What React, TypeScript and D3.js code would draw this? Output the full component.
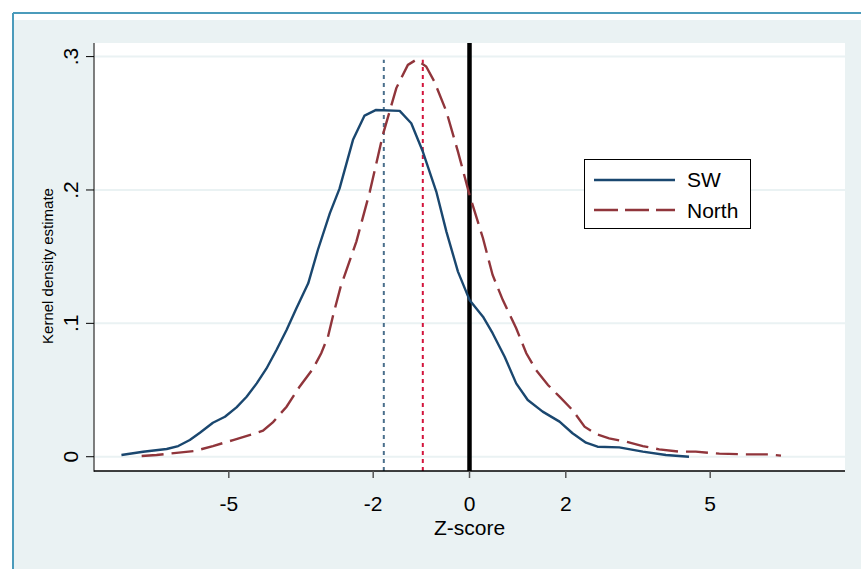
import React from "react";
import * as d3 from "d3";

const swZ = [-7.23, -6.78, -6.29, -6.05, -5.81, -5.6, -5.33, -5.08, -4.84, -4.63, -4.42, -4.22, -4.01, -3.8, -3.6, -3.35, -3.15, -2.9, -2.7, -2.42, -2.18, -1.94, -1.45, -1.21, -0.97, -0.69, -0.48, -0.24, 0, 0.28, 0.48, 0.73, 0.97, 1.21, 1.52, 1.87, 2.14, 2.42, 2.66, 3.11, 3.6, 4.08, 4.56];
const swDensity = [0.0013, 0.0037, 0.0058, 0.008, 0.0125, 0.018, 0.0255, 0.03, 0.037, 0.045, 0.055, 0.066, 0.08, 0.095, 0.111, 0.13, 0.155, 0.1826, 0.201, 0.2376, 0.2558, 0.26, 0.2593, 0.25, 0.2288, 0.1988, 0.1688, 0.1388, 0.1176, 0.105, 0.0926, 0.075, 0.055, 0.0425, 0.0338, 0.0263, 0.0176, 0.0105, 0.0075, 0.007, 0.0038, 0.0013, 0];

const northZ = [-6.81, -6.5, -6.19, -5.71, -5.33, -4.91, -4.5, -4.29, -4.08, -3.8, -3.53, -3.25, -3.08, -2.94, -2.84, -2.68, -2.35, -2.07, -1.8, -1.52, -1.28, -1.11, -0.9, -0.73, -0.48, -0.24, 0, 0.28, 0.48, 0.69, 0.97, 1.18, 1.38, 1.63, 1.87, 2.14, 2.39, 2.63, 2.9, 3.25, 3.6, 3.94, 4.36, 4.7, 5.19, 5.74, 6.22, 6.47];
const northDensity = [0.0005, 0.0013, 0.0025, 0.0043, 0.008, 0.0125, 0.017, 0.0195, 0.026, 0.0375, 0.0525, 0.066, 0.0776, 0.09, 0.105, 0.127, 0.1613, 0.1988, 0.2413, 0.2764, 0.2938, 0.2976, 0.2926, 0.2813, 0.2588, 0.2288, 0.1963, 0.1638, 0.1363, 0.1176, 0.0963, 0.0776, 0.065, 0.0538, 0.045, 0.035, 0.0225, 0.017, 0.0138, 0.0113, 0.008, 0.0055, 0.0038, 0.0038, 0.0023, 0.0018, 0.0018, 0.0008];

const xTicks = [-5, -2, 0, 2, 5];
const xTickLabels = ["-5", "-2", "0", "2", "5"];
const yTicks = [0, 0.1, 0.2, 0.3];
const yTickLabels = ["0", ".1", ".2", ".3"];
const seriesNames = ["SW", "North"];
const meanLines = [-1.78, -0.97];
const refLine = 0;
const peakTop = 0.2976;

const W = 861;
const H = 569;
const L = 94, R = 845, T = 43, B = 471;

export default function App() {
  const x = d3.scaleLinear().domain([-7.8, 7.8]).range([L, R]);
  const y = d3.scaleLinear().domain([-0.0107, 0.3102]).range([B, T]);

  const sw = swZ.map((z, i) => [z, swDensity[i]] as [number, number]);
  const north = northZ.map((z, i) => [z, northDensity[i]] as [number, number]);
  const line = d3.line<[number, number]>().x(d => x(d[0])).y(d => y(d[1]));

  const font = "Liberation Sans, Arial, sans-serif";
  const navy = "#1a476f";
  const maroon = "#90353b";
  const fs = 21;

  return (
    <div style={{ position: "absolute", left: 0, top: 0 }}>
      <svg width={W} height={H} style={{ display: "block" }}>
        <rect x={0} y={0} width={W} height={H} fill="#ffffff" />
        <rect x={14} y={20} width={W - 14} height={H - 20} fill="#eaf2f3" />
        <line x1={13} y1={13} x2={W} y2={13} stroke="#4b9bbb" strokeWidth={2} />
        <line x1={13} y1={13} x2={13} y2={H} stroke="#4b9bbb" strokeWidth={2} />
        <rect x={L} y={T} width={R - L} height={B - T} fill="#ffffff" />
        {yTicks.map(t => (
          <line key={"g" + t} x1={L} x2={R} y1={y(t)} y2={y(t)} stroke="#eaf2f3" strokeWidth={2} />
        ))}
        {meanLines.map((m, i) => (
          <line key={"m" + i} x1={x(m)} x2={x(m)} y1={B} y2={y(peakTop)}
            stroke={i === 0 ? "#4a6f8c" : "#d3143c"} strokeWidth={2} strokeDasharray="4 4" />
        ))}
        <line x1={x(refLine)} x2={x(refLine)} y1={T} y2={B} stroke="#000" strokeWidth={4.5} />
        <path d={line(sw) || ""} fill="none" stroke={navy} strokeWidth={2.4} strokeLinejoin="round" />
        <path d={line(north) || ""} fill="none" stroke={maroon} strokeWidth={2.4} strokeDasharray="22 8" />
        <line x1={L} x2={L} y1={T} y2={B + 0.75} stroke="#555" strokeWidth={1.5} />
        <line x1={L} x2={R} y1={B} y2={B} stroke="#000" strokeWidth={1.5} />
        {yTicks.map((t, i) => (
          <g key={"yt" + t}>
            <line x1={L - 8} x2={L} y1={y(t)} y2={y(t)} stroke="#000" strokeWidth={1} />
            <text transform={`translate(${78},${y(t)}) rotate(-90)`} textAnchor="middle"
              fontFamily={font} fontSize={fs} fill="#000">{yTickLabels[i]}</text>
          </g>
        ))}
        {xTicks.map((t, i) => (
          <g key={"xt" + t}>
            <line x1={x(t)} x2={x(t)} y1={B} y2={B + 7} stroke="#555" strokeWidth={1.5} />
            <text x={x(t)} y={511} textAnchor="middle" fontFamily={font} fontSize={fs} fill="#000">{xTickLabels[i]}</text>
          </g>
        ))}
        <text transform={`translate(${53},${266}) rotate(-90)`} textAnchor="middle"
          fontFamily={font} fontSize={15} fill="#000">Kernel density estimate</text>
        <text x={(L + R) / 2} y={535} textAnchor="middle" fontFamily={font} fontSize={fs} fill="#000">Z-score</text>
        <rect x={584.5} y={159.5} width={166} height={69} fill="#fff" stroke="#000" strokeWidth={1} />
        <line x1={594} x2={675} y1={180} y2={180} stroke={navy} strokeWidth={2.4} />
        <line x1={594} x2={675} y1={210} y2={210} stroke={maroon} strokeWidth={2.4} strokeDasharray="24 7" />
        <text x={687} y={187} fontFamily={font} fontSize={fs} fill="#000">{seriesNames[0]}</text>
        <text x={687} y={218} fontFamily={font} fontSize={fs} fill="#000">{seriesNames[1]}</text>
      </svg>
    </div>
  );
}
